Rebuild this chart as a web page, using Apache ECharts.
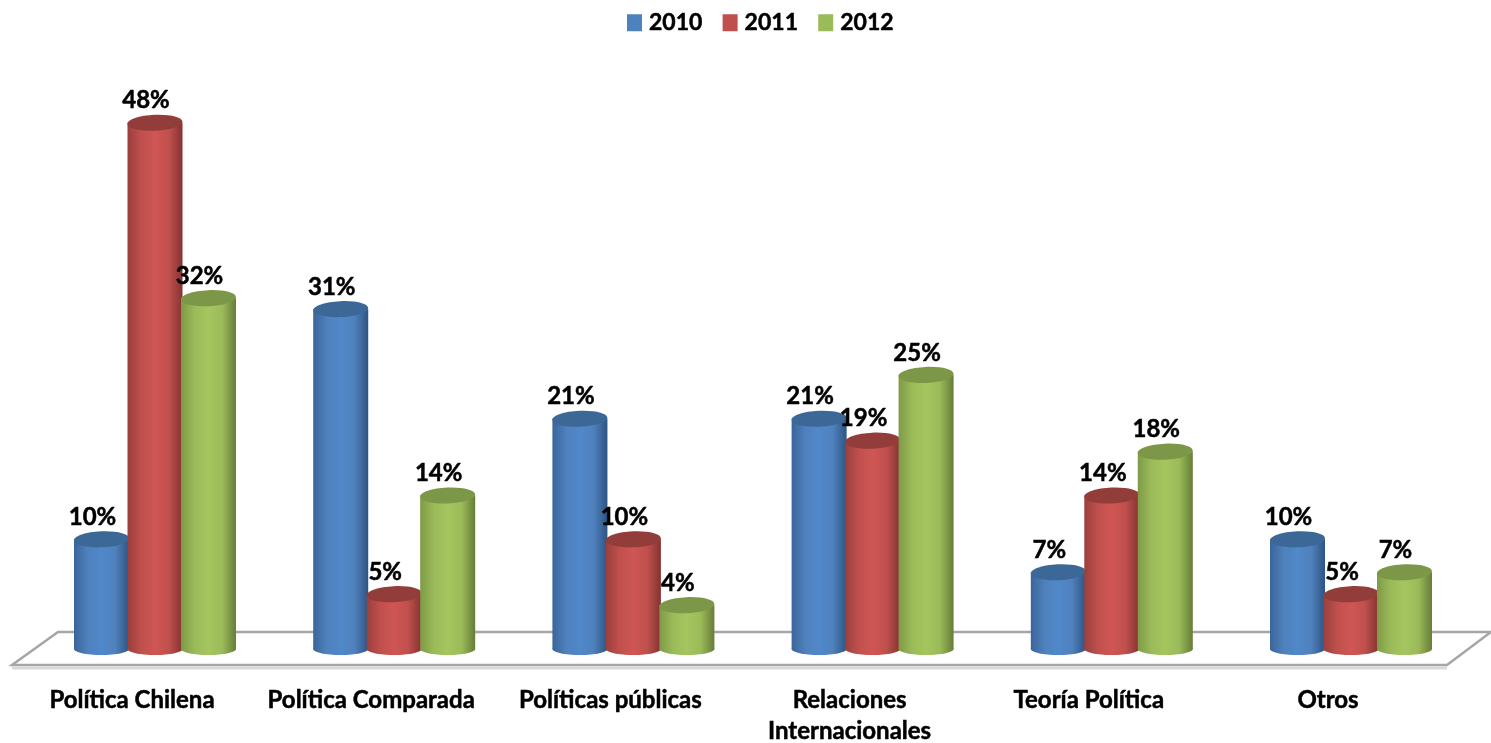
<!DOCTYPE html>
<html><head><meta charset="utf-8">
<style>html,body{margin:0;padding:0;background:#fff}#c{width:1491px;height:743px;filter:blur(0.5px)}</style>
<script src="https://cdn.jsdelivr.net/npm/echarts@6/dist/echarts.min.js"></script></head>
<body><div id="c"></div>
<script>
const categories = ['Política Chilena','Política Comparada','Políticas públicas','Relaciones\nInternacionales','Teoría Política','Otros'];
const years = ['2010','2011','2012'];
const v2010 = [10,31,21,21,7,10];
const v2011 = [48,5,10,19,14,5];
const v2012 = [32,14,4,25,18,7];
const seriesValues = [v2010,v2011,v2012];
const palette = [
  {base:'#4f81bd',edgeL:'#3a659a',mid:'#5088c9',edgeR:'#2d5482',top:'#3c6897'},
  {base:'#c0504d',edgeL:'#9a3f3d',mid:'#cf5654',edgeR:'#843331',top:'#933d3b'},
  {base:'#9bbb59',edgeL:'#7f9a47',mid:'#a5c55f',edgeR:'#667d38',top:'#7c9747'}
];
const font = 'Lato, "Open Sans", sans-serif';
const chart = echarts.init(document.getElementById('c'));

function cylinder(si){
  const p = palette[si];
  return function(params, api){
    const band = api.size([1,0])[0];
    const cx = api.coord([api.value(0),0])[0] + (si-1)*band*0.2236;
    const yTop = api.coord([api.value(0),api.value(1)])[1];
    const yBase = api.coord([api.value(0),0])[1];
    const rx = band*0.115, ry = 8, rb = 6;
    const grad = new echarts.graphic.LinearGradient(0,0,1,0,[
      {offset:0,color:p.edgeL},{offset:0.25,color:p.base},{offset:0.5,color:p.mid},
      {offset:0.75,color:p.base},{offset:1,color:p.edgeR}]);
    return {type:'group',children:[
      {type:'rect',shape:{x:cx-rx,y:yTop,width:rx*2,height:yBase-yTop},style:{fill:grad}},
      {type:'ellipse',shape:{cx:cx,cy:yBase,rx:rx,ry:rb},style:{fill:grad}},
      {type:'ellipse',shape:{cx:cx,cy:yTop,rx:rx,ry:ry},originX:cx,originY:yTop,rotation:0.045,style:{fill:p.top}},
      {type:'text',z2:100,style:{x:cx-9,y:yTop-22,text:api.value(1)+'%',align:'center',verticalAlign:'middle',
        font:'bold 24px '+font,fill:'#000',stroke:'#000',lineWidth:0.5}}
    ]};
  };
}

chart.setOption({
  animation:false,
  legend:{
    left:622,top:6,itemWidth:15,itemHeight:17,itemGap:20,icon:'rect',
    data:years,
    textStyle:{fontFamily:font,fontWeight:'bold',fontSize:23,color:'#000',padding:[0,0,0,2],textBorderColor:'#000',textBorderWidth:0.5}
  },
  grid:{left:35.4,right:20.4,top:46,bottom:94,outerBoundsMode:'none'},
  xAxis:{type:'category',data:categories,axisLine:{show:false},axisTick:{show:false},
    axisLabel:{interval:0,margin:36,padding:[0,46,0,0],fontFamily:font,fontWeight:'bold',fontSize:24,color:'#000',lineHeight:31,verticalAlign:'top',textBorderColor:'#000',textBorderWidth:0.5}},
  yAxis:{type:'value',min:0,max:55,show:false},
  graphic:[
    {type:'polygon',z:0,shape:{points:[[58,632],[1491,632],[1447,665],[12,665]]},style:{fill:'#fff',stroke:'#a6a6a6',lineWidth:2.5}},
    {type:'line',z:0,shape:{x1:12,y1:668,x2:1447,y2:668},style:{stroke:'#d9d9d9',lineWidth:3}}
  ],
  series:years.map((y,i)=>({
    name:y,type:'custom',z:5+i,
    itemStyle:{color:palette[i].base},
    renderItem:cylinder(i),
    encode:{x:0,y:1},
    data:seriesValues[i].map((v,j)=>[j,v])
  }))
});
</script></body></html>
